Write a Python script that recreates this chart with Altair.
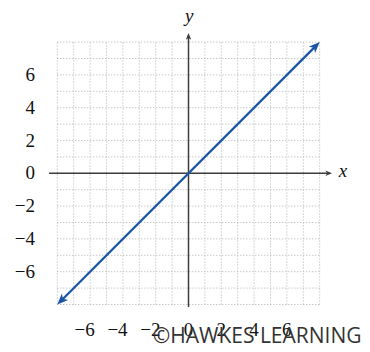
import altair as alt
import pandas as pd

# ---- data ----
grid_vals = list(range(-8, 9))
x_tick_vals = [-6, -4, -2, 0, 2, 4, 6]
x_tick_labels = ["\u22126", "\u22124", "\u22122", "0", "2", "4", "6"]
y_tick_vals = [6, 4, 2, 0, -2, -4, -6]
y_tick_labels = ["6", "4", "2", "0", "\u22122", "\u22124", "\u22126"]
line_x = [-7.8, 7.8]
line_y = [-7.8, 7.8]
arrow_x = [8, -8]
arrow_y = [8, -8]
arrow_angle = [315, 135]
watermark = "\u00a9HAWKES LEARNING"

# ---- scales (plot area 354x336, origin at page 188.5,173.3, 16.4 px/unit) ----
U = 16.4
W, H = 354, 336
ox, oy = 180.5, 165.3
xs = alt.Scale(domain=[-ox / U, (W - ox) / U], nice=False, zero=False)
ys = alt.Scale(domain=[-(H - oy) / U, oy / U], nice=False, zero=False)


def X(field=None, datum=None):
    if datum is not None:
        return alt.X(datum=datum, scale=xs, axis=None)
    return alt.X(field, type="quantitative", scale=xs, axis=None)


def Y(field=None, datum=None):
    if datum is not None:
        return alt.Y(datum=datum, scale=ys, axis=None)
    return alt.Y(field, type="quantitative", scale=ys, axis=None)


grid_df = pd.DataFrame({"v": grid_vals})
grid_color = "#b0b0b0"
vgrid = alt.Chart(grid_df).mark_rule(color=grid_color, strokeWidth=1, strokeDash=[1, 2]).encode(
    x=X("v"), y=Y(datum=-8), y2=alt.Y2(datum=8)
)
hgrid = alt.Chart(grid_df).mark_rule(color=grid_color, strokeWidth=1, strokeDash=[1, 2]).encode(
    y=Y("v"), x=X(datum=-8), x2=alt.X2(datum=8)
)

axis_color = "#3d3d3d"
head_path = "M0,0 L-2.2,-0.9 L-1.6,0 L-2.2,0.9 Z"

xaxis = alt.Chart(pd.DataFrame({"a": [0]})).mark_rule(color=axis_color, strokeWidth=1.5).encode(
    y=Y(datum=0), x=X(datum=-8.5), x2=alt.X2(datum=8.5)
)
yaxis = alt.Chart(pd.DataFrame({"a": [0]})).mark_rule(color=axis_color, strokeWidth=1.5).encode(
    x=X(datum=0), y=Y(datum=-8.15), y2=alt.Y2(datum=8.4)
)
axis_heads_df = pd.DataFrame({"hx": [8.75, 0], "hy": [0, 8.55], "ang": [0, 270]})
axis_heads = alt.Chart(axis_heads_df).mark_point(
    shape=head_path, filled=True, color=axis_color, size=36, opacity=1
).encode(x=X("hx"), y=Y("hy"), angle=alt.Angle("ang:Q", scale=None))

blue = "#1a55a6"
line_df = pd.DataFrame({"lx": line_x, "ly": line_y})
bline = alt.Chart(line_df).mark_line(color=blue, strokeWidth=2.2).encode(x=X("lx"), y=Y("ly"))
heads_df = pd.DataFrame({"hx": arrow_x, "hy": arrow_y, "ang": arrow_angle})
bheads = alt.Chart(heads_df).mark_point(
    shape=head_path, filled=True, color=blue, size=100, opacity=1
).encode(x=X("hx"), y=Y("hy"), angle=alt.Angle("ang:Q", scale=None))

serif = "'Liberation Serif', 'Times New Roman', 'DejaVu Serif', serif"
xlab_df = pd.DataFrame({"t": x_tick_vals, "lab": x_tick_labels})
xlabels = alt.Chart(xlab_df).mark_text(
    font=serif, fontSize=19, color="#111", align="right", baseline="alphabetic", dx=4.7
).encode(x=X("t"), y=Y(datum=-9.95), text="lab:N")
ylab_df = pd.DataFrame({"t": y_tick_vals, "lab": y_tick_labels})
ylabels = alt.Chart(ylab_df).mark_text(
    font=serif, fontSize=19, color="#111", align="right", baseline="middle"
).encode(y=Y("t"), x=X(datum=-9.36), text="lab:N")

titles_df = pd.DataFrame({"tx": [9.42, 0.05], "ty": [-0.2, 9.25], "lab": ["x", "y"]})
titles = alt.Chart(titles_df).mark_text(
    font=serif, fontSize=19, fontStyle="italic", color="#111", align="center", baseline="alphabetic"
).encode(x=X("tx"), y=Y("ty"), text="lab:N")

wm_df = pd.DataFrame({"wx": [10.55], "wy": [-10.36], "lab": [watermark]})
wm = alt.Chart(wm_df).mark_text(
    font="'Open Sans', sans-serif", fontSize=21, color="#333", align="right", baseline="alphabetic"
).encode(x=X("wx"), y=Y("wy"), text="lab:N")

chart = alt.layer(
    vgrid, hgrid, xaxis, yaxis, axis_heads, bline, bheads, xlabels, ylabels, titles, wm
).properties(
    width=W, height=H, padding=0, autosize=alt.AutoSizeParams(type="none"), background="white"
).configure_view(stroke=None)

chart.save("out.html", embed_options={"renderer": "svg", "actions": False})
